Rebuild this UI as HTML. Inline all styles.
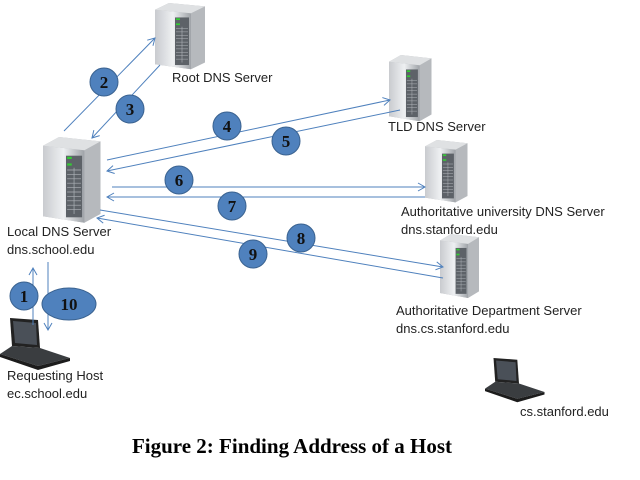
<!DOCTYPE html>
<html><head><meta charset="utf-8"><style>
html,body{margin:0;padding:0;background:#fff;}
svg{display:block}
text{font-family:"Liberation Sans",sans-serif;font-size:13px;fill:#222}
.n{font-family:"Liberation Serif",serif;font-weight:bold;font-size:17px;fill:#111;text-anchor:middle}
</style></head><body>
<svg width="640" height="480" viewBox="0 0 640 480" xmlns="http://www.w3.org/2000/svg">
<defs>
<linearGradient id="sg" x1="0" x2="1"><stop offset="0" stop-color="#c9cbcf"/><stop offset="0.5" stop-color="#eef0f2"/><stop offset="1" stop-color="#9fa3a8"/></linearGradient>
<marker id="a" markerWidth="10" markerHeight="10" refX="8" refY="5" orient="auto" markerUnits="userSpaceOnUse"><path d="M1,1 L8,5 L1,9" fill="none" stroke="#4f81bd" stroke-width="1"/></marker>
<g id="srv">
<path d="M0,8 L14,0 L50,4 L50,70 L36,78 L0,72 Z" fill="#b6b9bd"/>
<path d="M0,8 L36,12 L36,78 L0,72 Z" fill="url(#sg)"/>
<path d="M14,0 L50,4 L36,12 L0,8Z" fill="#dfe1e3"/>
<rect x="20" y="17" width="14" height="56" fill="#5d6268"/>
<rect x="21" y="18" width="4" height="2" fill="#3c3"/><rect x="21" y="24" width="4" height="2" fill="#3c3"/>
<g stroke="#aeb3b8" stroke-width="0.6"><path d="M21,30 H33 M21,34 H33 M21,38 H33 M21,42 H33 M21,46 H33 M21,50 H33 M21,54 H33 M21,58 H33 M21,62 H33 M21,66 H33 M27,28 V70"/></g>
</g>
<g id="lap">
<path d="M10,0 L38,2 L40,30 L12,28 Z" fill="#222"/>
<path d="M13,3 L36,5 L37,27 L15,25 Z" fill="#4a5058"/>
<path d="M12,28 L40,30 L70,40 L38,48 L0,36 Z" fill="#3a3d40"/>
<path d="M0,36 L38,48 L70,40 L70,43 L38,52 L0,39 Z" fill="#1c1c1c"/>
</g>
</defs>
<use href="#srv" transform="translate(155,3) scale(1,0.85)"/>
<use href="#srv" transform="translate(43,137) scale(1.15,1.1)"/>
<use href="#srv" transform="translate(389,55) scale(0.85,0.85)"/>
<use href="#srv" transform="translate(425,140) scale(0.85,0.8)"/>
<use href="#srv" transform="translate(440,234) scale(0.78,0.82)"/>
<use href="#lap" transform="translate(0,318)"/>
<use href="#lap" transform="translate(485,358) scale(0.85,0.85)"/>
<g stroke="#4f81bd" stroke-width="1" fill="none" marker-end="url(#a)">
<line x1="64" y1="131" x2="155" y2="38"/>
<line x1="160" y1="65" x2="92" y2="138"/>
<line x1="107" y1="160" x2="390" y2="100"/>
<line x1="400" y1="110" x2="107" y2="171"/>
<line x1="112" y1="187" x2="425" y2="187"/>
<line x1="425" y1="197" x2="107" y2="197"/>
<line x1="100" y1="210" x2="443" y2="267"/>
<line x1="443" y1="278" x2="97" y2="218"/>
<line x1="33" y1="325" x2="33" y2="268"/>
<line x1="48" y1="262" x2="48" y2="330"/>
</g>
<g fill="#4f81bd" stroke="#3a6290" stroke-width="1">
<circle cx="104" cy="82" r="14"/><circle cx="130" cy="109" r="14"/>
<circle cx="227" cy="126" r="14"/><circle cx="286" cy="141" r="14"/>
<circle cx="179" cy="180" r="14"/><circle cx="232" cy="206" r="14"/>
<circle cx="301" cy="238" r="14"/><circle cx="253" cy="254" r="14"/>
<circle cx="24" cy="296" r="14"/><ellipse cx="69" cy="304" rx="27" ry="16"/>
</g>
<text class="n" x="104" y="88">2</text><text class="n" x="130" y="115">3</text>
<text class="n" x="227" y="132">4</text><text class="n" x="286" y="147">5</text>
<text class="n" x="179" y="186">6</text><text class="n" x="232" y="212">7</text>
<text class="n" x="301" y="244">8</text><text class="n" x="253" y="260">9</text>
<text class="n" x="24" y="302">1</text><text class="n" x="69" y="310">10</text>
<text x="172" y="82">Root DNS Server</text>
<text x="388" y="131">TLD DNS Server</text>
<text x="401" y="216">Authoritative university DNS Server</text>
<text x="401" y="234">dns.stanford.edu</text>
<text x="7" y="236">Local DNS Server</text>
<text x="7" y="254">dns.school.edu</text>
<text x="396" y="315">Authoritative Department Server</text>
<text x="396" y="333">dns.cs.stanford.edu</text>
<text x="7" y="380">Requesting Host</text>
<text x="7" y="398">ec.school.edu</text>
<text x="520" y="416">cs.stanford.edu</text>
<text x="292" y="453" text-anchor="middle" style="font-family:'Liberation Serif',serif;font-weight:bold;font-size:21px;fill:#000">Figure 2: Finding Address of a Host</text>
</svg>
</body></html>
